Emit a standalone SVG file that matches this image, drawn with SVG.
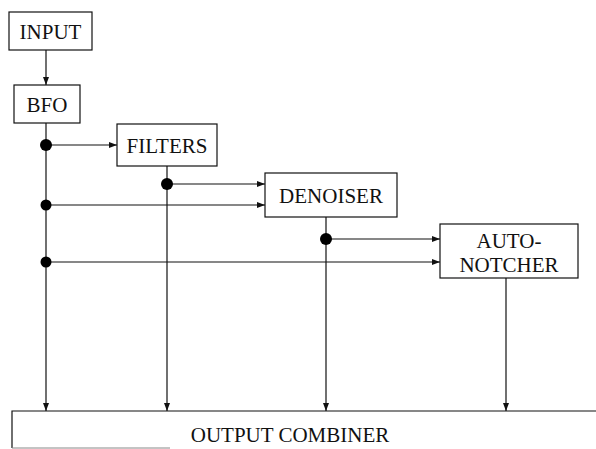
<svg xmlns="http://www.w3.org/2000/svg" width="596" height="449" viewBox="0 0 596 449">
<style>
.box{fill:#fff;stroke:#111;stroke-width:1.2}
.lbl{font-family:"Liberation Serif",serif;font-size:21px;fill:#111;text-anchor:middle}
.ln{stroke:#111;stroke-width:1.2;fill:none}
.dot{fill:#000}
</style>
<defs>
<marker id="ah" markerWidth="8" markerHeight="6" refX="8" refY="3" orient="auto" markerUnits="userSpaceOnUse">
<path d="M0,0 L8,3 L0,6 Z" fill="#111"/>
</marker>
</defs>
<rect width="596" height="449" fill="#fff"/>
<g id="connectors">
<line class="ln" x1="46" y1="50" x2="46" y2="85" marker-end="url(#ah)"/>
<line class="ln" x1="46" y1="123" x2="46" y2="411" marker-end="url(#ah)"/>
<line class="ln" x1="46" y1="145" x2="117" y2="145" marker-end="url(#ah)"/>
<line class="ln" x1="46" y1="205" x2="265" y2="205" marker-end="url(#ah)"/>
<line class="ln" x1="46" y1="262" x2="440" y2="262" marker-end="url(#ah)"/>
<line class="ln" x1="167" y1="166" x2="167" y2="411" marker-end="url(#ah)"/>
<line class="ln" x1="167" y1="184" x2="265" y2="184" marker-end="url(#ah)"/>
<line class="ln" x1="326" y1="217" x2="326" y2="411" marker-end="url(#ah)"/>
<line class="ln" x1="326" y1="239" x2="440" y2="239" marker-end="url(#ah)"/>
<line class="ln" x1="506" y1="278" x2="506" y2="411" marker-end="url(#ah)"/>
<circle class="dot" cx="46" cy="145" r="6"/>
<circle class="dot" cx="46" cy="205" r="5.5"/>
<circle class="dot" cx="46" cy="262" r="5.5"/>
<circle class="dot" cx="167" cy="184" r="6"/>
<circle class="dot" cx="326" cy="239" r="6"/>
</g>
<g id="input">
<rect class="box" x="9" y="12" width="83" height="38"/>
<text class="lbl" x="50.5" y="38.5">INPUT</text>
</g>
<g id="bfo">
<rect class="box" x="14" y="85" width="66" height="38"/>
<text class="lbl" x="47" y="111.5">BFO</text>
</g>
<g id="filters">
<rect class="box" x="117" y="124" width="100" height="42"/>
<text class="lbl" x="167" y="152.5">FILTERS</text>
</g>
<g id="denoiser">
<rect class="box" x="265" y="173" width="132" height="44"/>
<text class="lbl" x="331" y="202.5">DENOISER</text>
</g>
<g id="autonotcher">
<rect class="box" x="440" y="224" width="138" height="54"/>
<text class="lbl" x="509" y="248">AUTO-</text>
<text class="lbl" x="509" y="272">NOTCHER</text>
</g>
<g id="output-combiner">
<path class="ln" d="M596,411 L12,411 L12,448"/>
<line x1="12" y1="448" x2="170" y2="448" stroke="#888" stroke-width="1"/>
<text class="lbl" x="290" y="442">OUTPUT COMBINER</text>
</g>
</svg>
